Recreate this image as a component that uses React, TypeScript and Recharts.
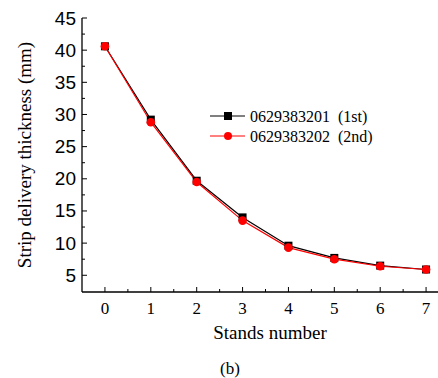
import React from "react";
import { LineChart, Line, XAxis, YAxis, Legend } from "recharts";

const stands = [0, 1, 2, 3, 4, 5, 6, 7];
const firstRun = [40.6, 29.2, 19.7, 14.0, 9.6, 7.7, 6.5, 5.9];
const secondRun = [40.6, 28.8, 19.5, 13.5, 9.3, 7.5, 6.4, 5.9];
const xTicks = [0, 0.5, 1, 1.5, 2, 2.5, 3, 3.5, 4, 4.5, 5, 5.5, 6, 6.5, 7];
const yTicks = [5, 7.5, 10, 12.5, 15, 17.5, 20, 22.5, 25, 27.5, 30, 32.5, 35, 37.5, 40, 42.5, 45];
const seriesNames = ["0629383201  (1st)", "0629383202  (2nd)"];

const data = stands.map((s, i) => ({ stand: s, first: firstRun[i], second: secondRun[i] }));

const serif = "'Liberation Serif', 'Times New Roman', serif";
const sans = "'Liberation Sans', Arial, sans-serif";

const XTick = (props: any) => {
  const { x, y, payload } = props;
  const major = Number.isInteger(payload.value);
  return (
    <g>
      <line x1={x} x2={x} y1={y} y2={y - (major ? 5 : 3)} stroke="#000" strokeWidth={1} />
      {major && (
        <text x={x} y={y + 22} textAnchor="middle" fontFamily={serif} fontSize={17} fill="#000">
          {payload.value}
        </text>
      )}
    </g>
  );
};

const YTick = (props: any) => {
  const { x, y, payload } = props;
  const major = payload.value % 5 === 0;
  return (
    <g>
      <line x1={x} x2={x + (major ? 5 : 3)} y1={y} y2={y} stroke="#000" strokeWidth={1} />
      {major && (
        <text x={x - 6} y={y + 6.5} textAnchor="end" fontFamily={sans} fontSize={19} fill="#000">
          {payload.value}
        </text>
      )}
    </g>
  );
};

const SquareDot = (props: any) => {
  const { cx, cy, index } = props;
  return <rect key={`sq-${index}`} x={cx - 4} y={cy - 4} width={8} height={8} fill="#000" />;
};

const RoundDot = (props: any) => {
  const { cx, cy, index } = props;
  return <circle key={`ci-${index}`} cx={cx} cy={cy} r={4.3} fill="#ff0000" />;
};

const LegendBox = () => (
  <svg width={180} height={44} style={{ fontFamily: serif }}>
    <g>
      <line x1={0} x2={35} y1={10} y2={10} stroke="#000" strokeWidth={1} />
      <rect x={14} y={6} width={8} height={8} fill="#000" />
      <text x={40} y={15.5} fontSize={16} fill="#000" style={{ whiteSpace: "pre", fontFamily: serif }}>
        {seriesNames[0]}
      </text>
    </g>
    <g>
      <line x1={0} x2={35} y1={30} y2={30} stroke="#ff0000" strokeWidth={1} />
      <circle cx={18} cy={30} r={4} fill="#ff0000" />
      <text x={40} y={35.5} fontSize={16} fill="#000" style={{ whiteSpace: "pre", fontFamily: serif }}>
        {seriesNames[1]}
      </text>
    </g>
  </svg>
);

export default function App() {
  return (
    <div style={{ position: "fixed", left: 0, top: 0, width: 438, height: 378, overflow: "hidden", background: "#fff" }}>
      <LineChart width={460} height={378} data={data} margin={{ top: 18, right: 11, left: 32, bottom: 46 }}>
        <XAxis
          dataKey="stand"
          type="number"
          domain={[-0.5, 7.5]}
          ticks={xTicks}
          interval={0}
          tickSize={0}
          tickMargin={0}
          tickLine={false}
          tick={<XTick />}
          axisLine={{ stroke: "#000", strokeWidth: 1.3 }}
          height={40}
          label={{
            content: () => (
              <g>
                <text x={270} y={339} textAnchor="middle" fontFamily={serif} fontSize={19} fill="#000">
                  Stands number
                </text>
                <text x={230} y={374} textAnchor="middle" fontFamily={serif} fontSize={17} fill="#000">
                  (b)
                </text>
              </g>
            ),
          }}
        />
        <XAxis
          xAxisId="top"
          orientation="top"
          type="number"
          domain={[-0.5, 7.5]}
          tick={false}
          tickLine={false}
          height={0}
          axisLine={{ stroke: "#000", strokeWidth: 1.3 }}
        />
        <YAxis
          type="number"
          domain={[2.4, 45]}
          ticks={yTicks}
          interval={0}
          tickSize={0}
          tickMargin={0}
          tickLine={false}
          tick={<YTick />}
          axisLine={{ stroke: "#000", strokeWidth: 1.3 }}
          width={50}
          label={{
            content: () => (
              <text
                transform="translate(31, 155) rotate(-90)"
                textAnchor="middle"
                fontFamily={serif}
                fontSize={19}
                fill="#000"
              >
                Strip delivery thickness (mm)
              </text>
            ),
          }}
        />
        <Legend
          verticalAlign="middle"
          align="center"
          layout="vertical"
          content={() => <LegendBox />}
          wrapperStyle={{ position: "absolute", left: 210, top: 106, width: 180, height: 44 }}
        />
        <Line
          dataKey="first"
          name={seriesNames[0]}
          stroke="#000"
          strokeWidth={1.2}
          dot={SquareDot}
          activeDot={false}
          isAnimationActive={false}
        />
        <Line
          dataKey="second"
          name={seriesNames[1]}
          stroke="#ff0000"
          strokeWidth={1.2}
          dot={RoundDot}
          activeDot={false}
          isAnimationActive={false}
        />
      </LineChart>
    </div>
  );
}
